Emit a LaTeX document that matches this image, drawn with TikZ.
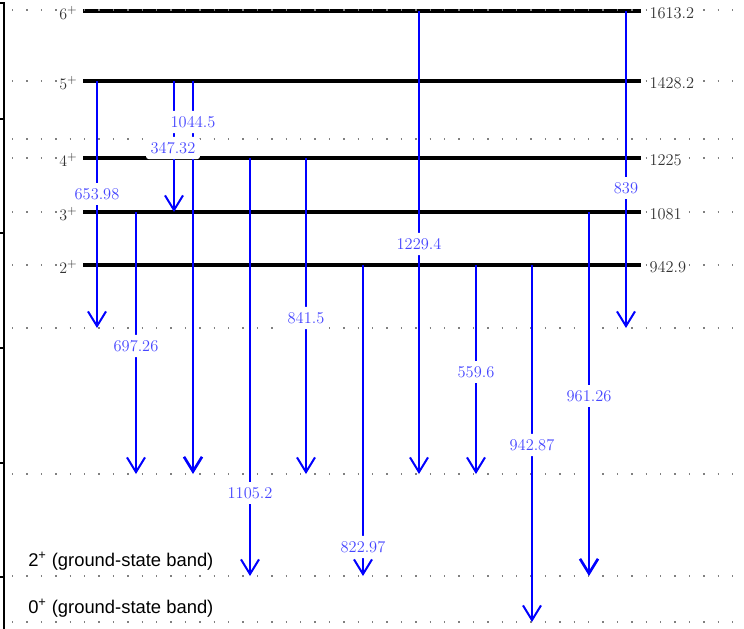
\documentclass[tikz,border=0pt]{standalone}
\usepackage{fontspec}
\newfontfamily\bandfont{Liberation Sans}
\usepackage{tikz}
\usetikzlibrary{arrows.meta}
\definecolor{transblue}{RGB}{0,0,255}
\definecolor{labelblue}{RGB}{70,70,255}
\tikzstyle{stateline} = [line width=2.4pt, black]
\tikzstyle{guideline} = [gray, line width=1pt, dash pattern=on 1.1pt off 9.7pt]
\tikzstyle{gammaarrow} = [line width=1.5pt, transblue, -{Straight Barb[length=11pt,width=13.5pt]}]
\tikzstyle{strongarrow} = [gammaarrow, line width=2pt]
\tikzstyle{energylabel} = [font=\fontsize{12.3}{14}\selectfont, text=black!80, fill=white, inner sep=1pt]
\tikzstyle{gammalabel} = [font=\fontsize{12.3}{14}\selectfont, text=labelblue, fill=white, rounded corners=2pt, inner xsep=3.5pt, inner ysep=4pt]
\tikzstyle{bandlabel} = [font=\bandfont\fontsize{13.8}{16}\selectfont, inner sep=0pt]

\begin{document}
\begin{tikzpicture}[x=0.75pt, y=-0.75pt]
\useasboundingbox (0,0) rectangle (744,629);

% levels and guide lines
\coordinate (s6) at (0,11);
\coordinate (s5) at (0,81);
\coordinate (s4) at (0,158);
\coordinate (s3) at (0,212);
\coordinate (s2) at (0,265);
\coordinate (g1) at (0,328);
\coordinate (g2) at (0,474);
\coordinate (g3) at (0,576);
\coordinate (g4) at (0,622);

\foreach \y in {81,139,158,212,265,328,474,576,622}
  \draw[guideline] (12,\y) -- (744,\y);

\draw[line width=1.5pt] (0,3) -- (4,3) -- (4,629);
\foreach \t in {119,233,348,463,577}
  \draw[line width=0.8pt] (0,\t) -- (4,\t);

\draw[stateline] (83,0 |- s6) -- (641,0 |- s6);
\draw[stateline] (83,0 |- s5) -- (641,0 |- s5);
\draw[stateline] (83,0 |- s4) -- (641,0 |- s4);
\draw[stateline] (83,0 |- s3) -- (641,0 |- s3);
\draw[stateline] (83,0 |- s2) -- (641,0 |- s2);
\draw[guideline] (12,10) -- (744,10);

\node(J6) [energylabel, anchor=base east] at (79,19) {$6^{+}$};
\node(J5) [energylabel, anchor=base east] at (79,89) {$5^{+}$};
\node(J4) [energylabel, anchor=base east] at (79,166) {$4^{+}$};
\node(J3) [energylabel, anchor=base east] at (79,220) {$3^{+}$};
\node(J2) [energylabel, anchor=base east] at (79,273) {$2^{+}$};

\node(E6) [energylabel, anchor=base west] at (648,18) {1613.2};
\node(E5) [energylabel, anchor=base west] at (648,88) {1428.2};
\node(E4) [energylabel, anchor=base west] at (648,165) {1225};
\node(E3) [energylabel, anchor=base west] at (648,219) {1081};
\node(E2) [energylabel, anchor=base west] at (648,272) {942.9};

\node(B2) [bandlabel, anchor=base west] at (28,566) {2\textsuperscript{+} (ground-state band)};
\node(B0) [bandlabel, anchor=base west] at (28,613) {0\textsuperscript{+} (ground-state band)};

% transitions
\draw[gammaarrow] (97,0 |- s5) -- (97,0 |- g1);
\draw[gammaarrow] (136,0 |- s3) -- (136,0 |- g2);
\draw[gammaarrow] (174,0 |- s5) -- (174,0 |- s3);
\draw[strongarrow] (193,0 |- s5) -- (193,0 |- g2);
\draw[gammaarrow] (250,0 |- s4) -- (250,0 |- g3);
\draw[gammaarrow] (306,0 |- s4) -- (306,0 |- g2);
\draw[gammaarrow] (363,0 |- s2) -- (363,0 |- g3);
\draw[gammaarrow] (419,0 |- s6) -- (419,0 |- g2);
\draw[gammaarrow] (476,0 |- s2) -- (476,0 |- g2);
\draw[gammaarrow] (532,0 |- s2) -- (532,0 |- g4);
\draw[strongarrow] (589,0 |- s3) -- (589,0 |- g3);
\draw[gammaarrow] (626,0 |- s6) -- (626,0 |- g1);

\node(T1)  [gammalabel] at (97,194)  {653.98};
\node(T2)  [gammalabel] at (136,346) {697.26};
\node(T3)  [gammalabel] at (193,122) {1044.5};
\node(T4)  [gammalabel] at (173,148) {347.32};
\node(T5)  [gammalabel] at (250,493) {1105.2};
\node(T6)  [gammalabel] at (306,318) {841.5};
\node(T7)  [gammalabel] at (363,547) {822.97};
\node(T8)  [gammalabel] at (419,244) {1229.4};
\node(T9)  [gammalabel] at (476,372) {559.6};
\node(T10) [gammalabel] at (532,445) {942.87};
\node(T11) [gammalabel] at (589,396) {961.26};
\node(T12) [gammalabel] at (626,188) {839};

\end{tikzpicture}
\end{document}
